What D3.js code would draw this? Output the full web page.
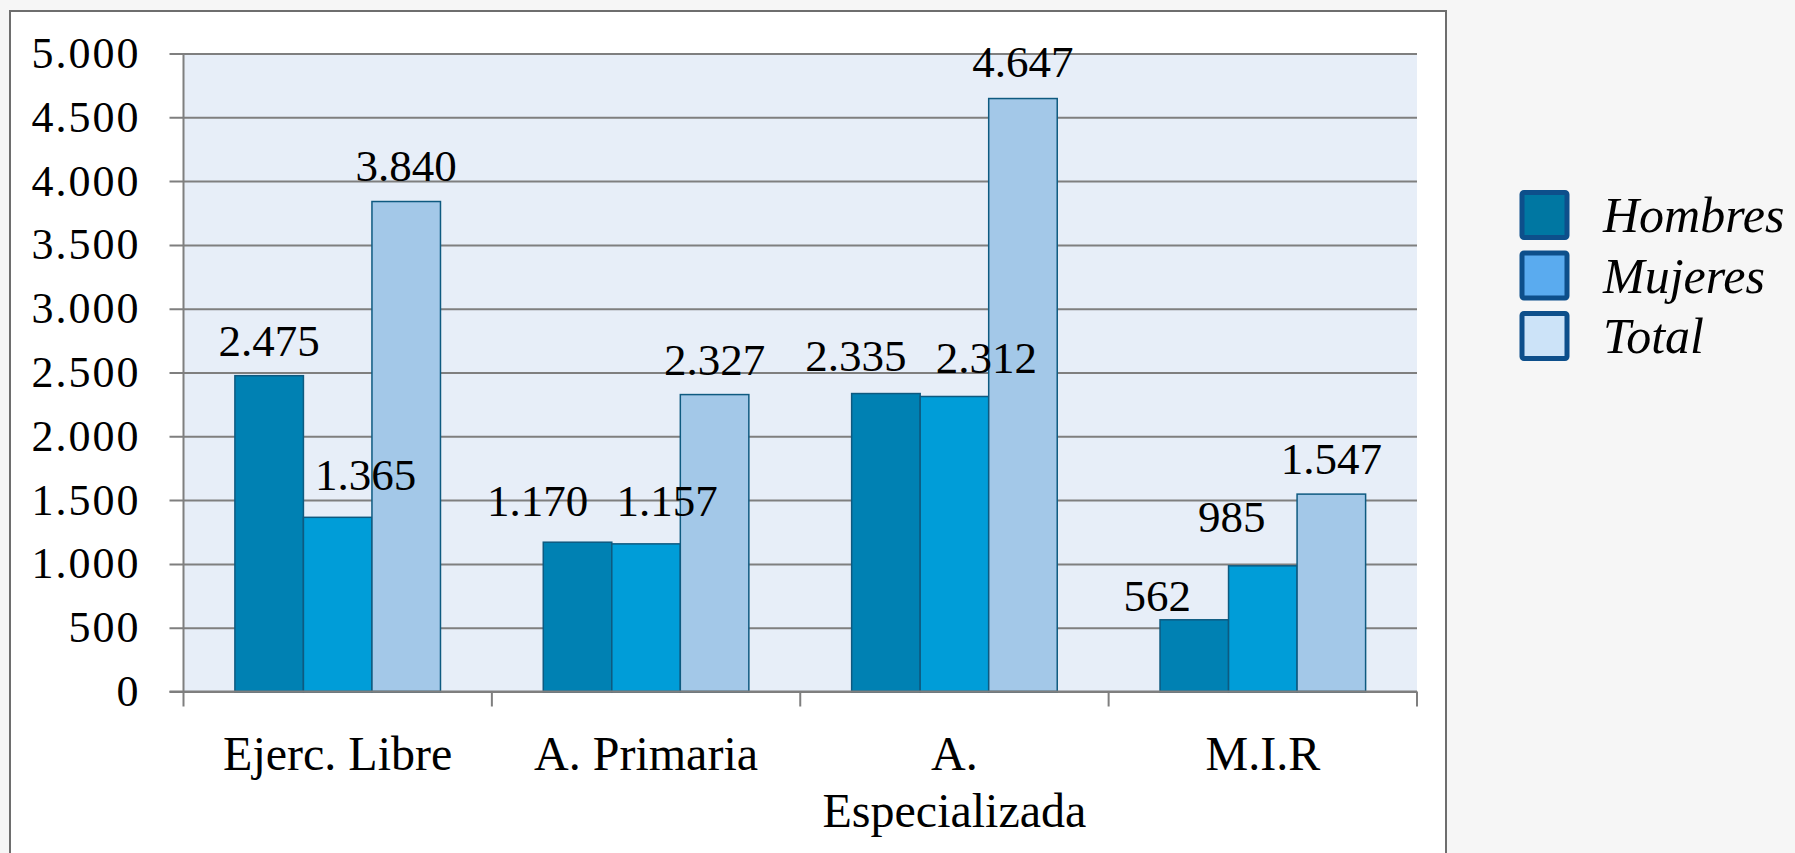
<!DOCTYPE html>
<html><head><meta charset="utf-8">
<script src="https://cdn.jsdelivr.net/npm/d3@7"></script>
<style>
html,body{margin:0;padding:0;background:#f6f6f6;}
svg{display:block;}
text{font-family:"Liberation Serif","DejaVu Serif",serif;fill:#000;}
</style></head>
<body>
<svg id="chart" width="1795" height="853"></svg>
<script>
// ---- data ----
const categories = ["Ejerc. Libre", "A. Primaria", "A.\nEspecializada", "M.I.R"];
const seriesNames = ["Hombres", "Mujeres", "Total"];
const hombres = [2475, 1170, 2335, 562];
const mujeres = [1365, 1157, 2312, 985];
const total = [3840, 2327, 4647, 1547];
const yTicks = [0, 500, 1000, 1500, 2000, 2500, 3000, 3500, 4000, 4500, 5000];

// ---- styles ----
const barColors = ["#0081b3", "#009dd8", "#a3c8e8"];
const legendColors = ["#0077a2", "#5aabef", "#cce3f8"];
// label nudges (pixels) to mimic the original placement of data labels
const labelDx = [[0, -40, -30, -37], [28, 21, 32, -31], [0, 0, 0, 0]];
const labelGap = [[24, 30, 27, 13], [31, 32, 27, 38], [25, 24, 26, 24]];

const svg = d3.select("#chart");
const fmt = d3.formatLocale({decimal: ",", thousands: ".", grouping: [3], currency: ["", ""]}).format(",d");

const pLeft = 183.5, pRight = 1417, pTop = 53.5, pBottom = 691.5;

// outer frame
svg.append("rect").attr("x", 10).attr("y", 11).attr("width", 1436).attr("height", 900)
  .attr("fill", "#fff").attr("stroke", "#6e6e6e").attr("stroke-width", 2);

const x0 = d3.scaleBand().domain(categories).range([pLeft, pRight]).paddingInner(0).paddingOuter(0);
const x1 = d3.scaleBand().domain(seriesNames).range([0, x0.bandwidth()]).paddingInner(0).paddingOuter(0.75);
const y = d3.scaleLinear().domain([0, 5000]).range([pBottom, pTop]);

// plot area background
svg.append("rect").attr("x", pLeft).attr("y", pTop).attr("width", pRight - pLeft).attr("height", pBottom - pTop)
  .attr("fill", "#e7eef8");

// gridlines + y axis
const yAxis = d3.axisLeft(y).tickValues(yTicks).tickSize(-(pRight - pLeft)).tickSizeOuter(0).tickFormat(fmt).tickPadding(0);
const gy = svg.append("g").attr("transform", `translate(${pLeft},0)`).call(yAxis);
gy.select(".domain").remove();
gy.selectAll(".tick line").attr("x1", -14).attr("stroke", "#7f7f7f").attr("stroke-width", 2);
gy.selectAll(".tick text").attr("x", -43).attr("dy", null).attr("y", 14)
  .style("font-size", "44px").style("letter-spacing", "2px").attr("text-anchor", "end").attr("font-family", null);
svg.append("line").attr("x1", pLeft).attr("x2", pLeft).attr("y1", pTop).attr("y2", pBottom)
  .attr("stroke", "#7f7f7f").attr("stroke-width", 2);

// bars
const series = [hombres, mujeres, total];
series.forEach((vals, si) => {
  svg.append("g").selectAll("rect").data(vals).join("rect")
    .attr("x", (d, i) => x0(categories[i]) + x1(seriesNames[si]))
    .attr("y", d => y(d))
    .attr("width", x1.bandwidth())
    .attr("height", d => pBottom - y(d))
    .attr("fill", barColors[si])
    .attr("stroke", "#0e5a80").attr("stroke-width", 1.5);
});

// x axis
const xAxis = d3.axisBottom(x0).tickSize(0).tickFormat("");
const gx = svg.append("g").attr("transform", `translate(0,${pBottom})`).call(xAxis);
gx.select(".domain").attr("d", `M${pLeft - 14},0H${pRight}`).attr("stroke", "#7f7f7f").attr("stroke-width", 2.2);
const boundaries = categories.map(c => x0(c)).concat([pRight]);
svg.append("g").selectAll("line").data(boundaries).join("line")
  .attr("x1", d => d).attr("x2", d => d).attr("y1", pBottom).attr("y2", pBottom + 15)
  .attr("stroke", "#7f7f7f").attr("stroke-width", 2);

// category labels
categories.forEach(c => {
  const lines = c.split("\n");
  const cx = x0(c) + x0.bandwidth() / 2;
  const t = svg.append("text").attr("x", cx).attr("y", 770)
    .attr("text-anchor", "middle").style("font-size", "48px");
  lines.forEach((ln, k) => t.append("tspan").attr("x", cx).attr("dy", k === 0 ? 0 : 57).text(ln));
});

// value labels
series.forEach((vals, si) => {
  svg.append("g").selectAll("text").data(vals).join("text")
    .attr("x", (d, i) => x0(categories[i]) + x1(seriesNames[si]) + x1.bandwidth() / 2 + labelDx[si][i])
    .attr("y", (d, i) => y(d) - labelGap[si][i] + 4)
    .attr("text-anchor", "middle").style("font-size", "45px")
    .text(d => fmt(d));
});

// legend
const lg = svg.append("g");
seriesNames.forEach((s, i) => {
  const cy = 215 + i * 60.5;
  lg.append("rect").attr("x", 1522).attr("y", cy - 22.5).attr("width", 45).attr("height", 45)
    .attr("rx", 2).attr("fill", legendColors[i]).attr("stroke", "#0d4f8b").attr("stroke-width", 5);
  lg.append("text").attr("x", 1603).attr("y", cy + 17).style("font-size", "50px").style("font-style", "italic").text(s);
});
</script>
</body></html>
